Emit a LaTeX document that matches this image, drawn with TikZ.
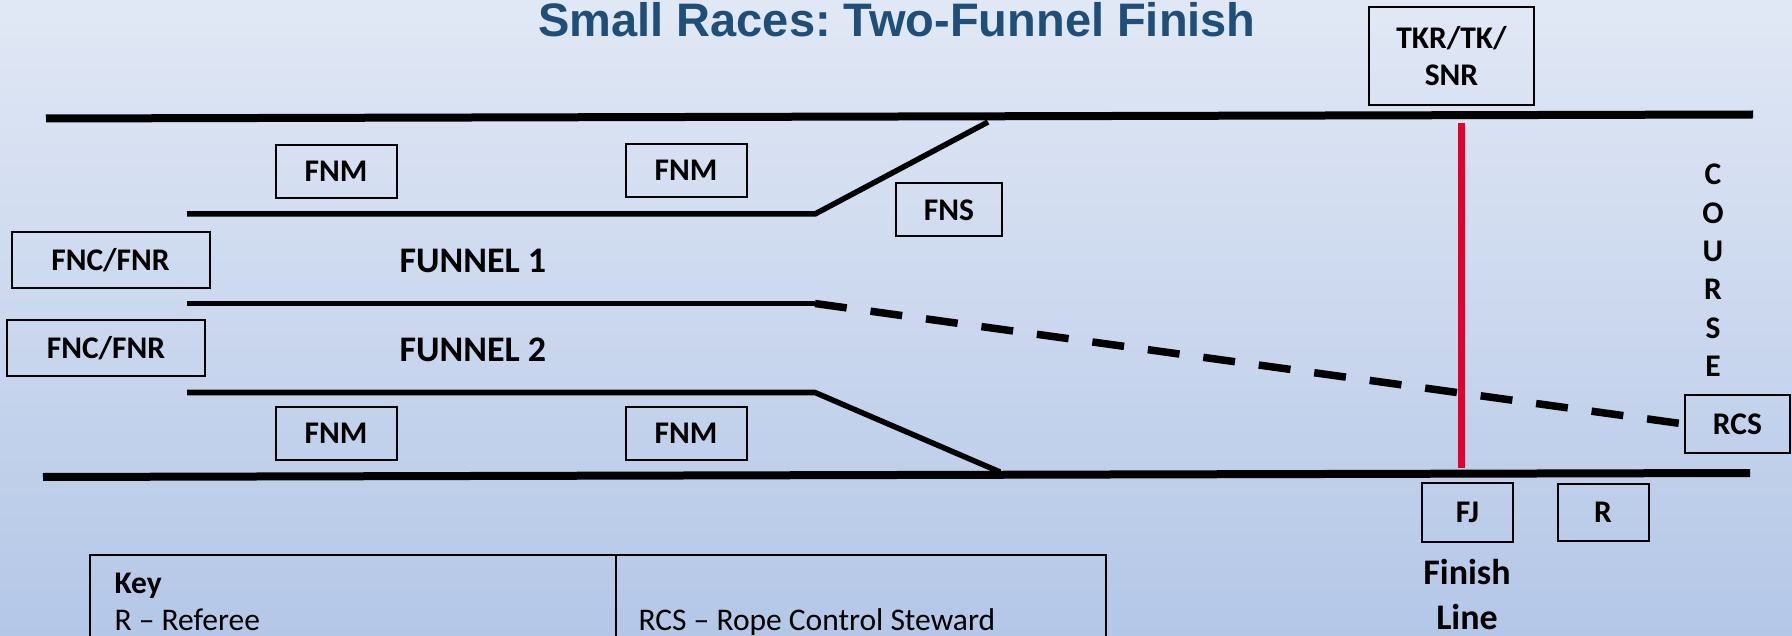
\documentclass[tikz,border=0pt]{standalone}
\usepackage{fontspec}
\setmainfont{Carlito}
\newfontfamily\titlefont{Liberation Sans}
\definecolor{titleblue}{RGB}{31,78,121}
\definecolor{finishred}{RGB}{227,0,43}
\definecolor{bgtop}{RGB}{225,232,245}
\definecolor{bgbottom}{RGB}{180,199,231}
\frenchspacing
\begin{document}
\begin{tikzpicture}[x=1pt, y=-1pt,
    official/.style={draw, line width=2pt, inner sep=0pt, align=center,
      font=\fontsize{31.5}{37}\selectfont\bfseries},
    fence/.style={line width=8pt},
    chute/.style={line width=5.5pt, line join=round},
    lanetext/.style={font=\fontsize{36}{45}\selectfont\bfseries}
  ]
      \useasboundingbox (0,0) rectangle (1792,636);
      \clip (0,0) rectangle (1792,636);
      \shade[top color=bgtop, bottom color=bgbottom] (0,0) rectangle (1792,636);

      % Title
      \node[font=\titlefont\fontsize{47}{56}\selectfont\bfseries, text=titleblue, anchor=base] (title) at (897,37) {Small Races: Two-Funnel Finish};

      % Officials
      \node[official, minimum width=121, minimum height=53] (fnmA) at (336,171.5) {FNM};
      \node[official, minimum width=121, minimum height=53] (fnmB) at (686,170.5) {FNM};
      \node[official, minimum width=121, minimum height=53] (fnmC) at (336,433) {FNM};
      \node[official, minimum width=121, minimum height=53] (fnmD) at (686,433) {FNM};
      \node[official, minimum width=106, minimum height=53] (fns) at (949,210) {FNS};
      \node[official, minimum width=198, minimum height=56] (fncA) at (110.5,260.5) {FNC/FNR};
      \node[official, minimum width=198, minimum height=56] (fncB) at (106,348) {FNC/FNR};
      \node[official, minimum width=165, minimum height=98] (tkr) at (1451.5,56) {TKR/TK/\\SNR};
      \node[official, minimum width=105, minimum height=58] (rcs) at (1737.5,424) {RCS};
      \node[official, minimum width=91, minimum height=59] (fj) at (1467.5,512.5) {FJ};
      \node[official, minimum width=91, minimum height=57] (ref) at (1603,512.5) {R};

      % Course fences
      \coordinate (topL) at (46,118.5);
      \coordinate (topR) at (1753,114.5);
      \coordinate (botL) at (43,477);
      \coordinate (botR) at (1750,473);
      \draw[fence] (topL) -- (topR);
      \draw[fence] (botL) -- (botR);

      % Funnel ropes
      \coordinate (upL) at (187,214);
      \coordinate (upK) at (815,214);
      \coordinate (upE) at (988,122);
      \coordinate (midL) at (187,303.5);
      \coordinate (midK) at (815,303.5);
      \coordinate (lowL) at (187,392.5);
      \coordinate (lowK) at (815,392.5);
      \coordinate (lowE) at (1000,472);
      \draw[chute] (upL) -- (upK) -- (upE);
      \draw[chute] (midL) -- (midK);
      \draw[chute] (lowL) -- (lowK) -- (lowE);
      \draw[line width=7.5pt, dash pattern=on 32pt off 24pt] (midK) -- (rcs.west);

      % Finish line
      \coordinate (finT) at (1461,123);
      \coordinate (finB) at (1461,468);
      \draw[finishred, line width=7pt] (finT) -- (finB);

      % Lane names
      \node[lanetext, anchor=base west] (funA) at (396,273) {FUNNEL 1};
      \node[lanetext, anchor=base west] (funB) at (396,362) {FUNNEL 2};
      \node[lanetext, align=center] (finish) at (1467,595) {Finish\\Line};

      % Course (vertical)
      \foreach \ch [count=\i from 0] in {C,O,U,R,S,E}
        \node[font=\fontsize{31.5}{37}\selectfont\bfseries, anchor=base] (course\i) at (1713,185+38.3*\i) {\ch};

      % Key
      \draw[line width=2pt] (90,555) rectangle (1106,660);
      \draw[line width=2pt] (616,555) -- (616,660);
      \node[font=\fontsize{31.5}{37}\selectfont\bfseries, anchor=base west] (keyhead) at (111,593) {Key};
      \node[font=\fontsize{31.5}{37}\selectfont, anchor=base west] (keyR) at (111,630) {R -- Referee};
      \node[font=\fontsize{31.5}{37}\selectfont, anchor=base west] (keyRCS) at (635,630) {RCS -- Rope Control Steward};
\end{tikzpicture}
\end{document}
